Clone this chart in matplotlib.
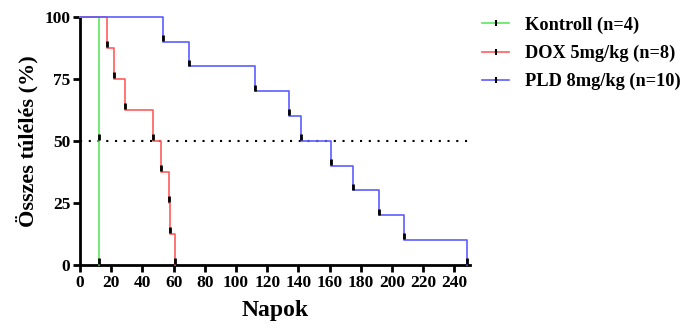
import matplotlib
matplotlib.use('Agg')
import matplotlib.pyplot as plt
from matplotlib.lines import Line2D

# survival steps (day, new % survival)
kontroll_t = [0, 12]
kontroll_s = [100, 0]
kontroll_marks_t = [12, 12]
kontroll_marks_s = [50, 0]

dox_t = [0, 17, 22, 29, 47, 52, 57, 58, 61]
dox_s = [100, 87.5, 75, 62.5, 50, 37.5, 25, 12.5, 0]

pld_t = [0, 53, 70, 112, 134, 142, 161, 175, 192, 208, 248]
pld_s = [100, 90, 80, 70, 60, 50, 40, 30, 20, 10, 0]

labels = ['Kontroll (n=4)', 'DOX 5mg/kg (n=8)', 'PLD 8mg/kg (n=10)']
colors = ['#5ee65e', '#ff5c5c', '#5c5cff']

plt.rcParams['font.family'] = ['Liberation Serif', 'DejaVu Serif']
plt.rcParams['font.weight'] = 'bold'

fig = plt.figure(figsize=(6.9, 3.25), dpi=100)
ax = fig.add_axes([0.116, 0.185, 0.565, 0.763])

ax.step(kontroll_t, kontroll_s, where='post', color=colors[0], lw=1.2, clip_on=False, zorder=3)
ax.step(dox_t, dox_s, where='post', color=colors[1], lw=1.2, clip_on=False, zorder=3)
ax.step(pld_t, pld_s, where='post', color=colors[2], lw=1.2, clip_on=False, zorder=3)

# little black ticks at each event
mk = dict(ls='none', marker='|', color='black', ms=5, mew=2, clip_on=False, zorder=4)
ax.plot(kontroll_marks_t, [s + 1.5 for s in kontroll_marks_s], **mk)
ax.plot(dox_t[1:], [s + 1.5 for s in dox_s[1:]], **mk)
ax.plot(pld_t[1:], [s + 1.5 for s in pld_s[1:]], **mk)

ax.axhline(50, color='black', ls=(0, (1, 3.2)), lw=1.5, zorder=2)

ax.set_xlim(0, 250)
ax.set_ylim(0, 100)
ax.set_xticks(range(0, 241, 20))
ax.set_yticks([0, 25, 50, 75, 100])
for s in ['top', 'right']:
    ax.spines[s].set_visible(False)
for s in ['left', 'bottom']:
    ax.spines[s].set_linewidth(2)
ax.tick_params(width=2, length=5, labelsize=12.5, pad=2)
for lab in ax.get_xticklabels() + ax.get_yticklabels():
    lab.set_fontweight('bold')

ax.set_xlabel('Napok', fontsize=17, fontweight='bold', labelpad=7)
ax.set_ylabel('Összes túlélés (%)', fontsize=16, fontweight='bold', labelpad=4)

handles = [Line2D([0], [0], color=c, lw=1.2, marker='|', mec='black', mfc='black', ms=5, mew=1.5)
           for c in colors]
fig.legend(handles, labels, loc='upper left', bbox_to_anchor=(0.675, 1.0), frameon=False,
           handlelength=1.45, labelspacing=0.6, handletextpad=0.9,
           prop={'weight': 'bold', 'size': 13.2})

fig.savefig('out.png', dpi=100)
